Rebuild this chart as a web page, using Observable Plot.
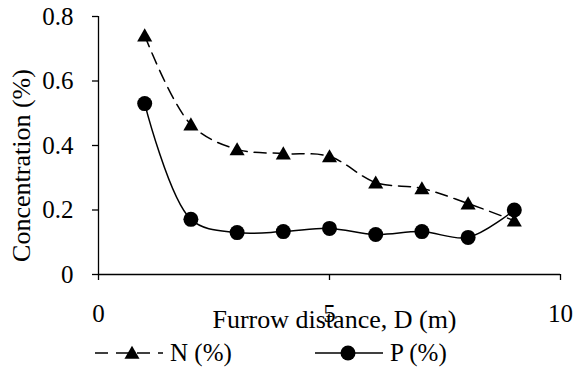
<!DOCTYPE html>
<html>
<head>
<meta charset="utf-8">
<script src="https://cdn.jsdelivr.net/npm/d3@7"></script>
<script src="https://cdn.jsdelivr.net/npm/@observablehq/plot@0.6"></script>
<style>
  html, body { margin: 0; padding: 0; background: #fff; }
  #wrap { width: 573px; font-family: "Liberation Serif", "Times New Roman", serif; }
  #legend { position: relative; width: 573px; height: 36px; font-size: 25px; color: #000; }
  #legend .item { position: absolute; top: 0; height: 36px; display: flex; align-items: center; }
  #legend svg { display: block; }
</style>
</head>
<body>
<div id="wrap">
  <div id="chart"></div>
  <div id="legend"></div>
</div>
<script>
const distance = [1, 2, 3, 4, 5, 6, 7, 8, 9];
const nValues = [0.741, 0.465, 0.388, 0.375, 0.366, 0.285, 0.267, 0.22, 0.167];
const pValues = [0.53, 0.171, 0.13, 0.133, 0.143, 0.124, 0.133, 0.115, 0.2];
const xTicks = [0, 5, 10];
const yTicks = [0, 0.2, 0.4, 0.6, 0.8];
const seriesNames = ["N (%)", "P (%)"];
const xLabel = "Furrow distance, D (m)";
const yLabel = "Concentration (%)";

const nData = distance.map((d, i) => ({x: d, y: nValues[i]}));
const pData = distance.map((d, i) => ({x: d, y: pValues[i]}));

const chart = Plot.plot({
  width: 573,
  height: 335,
  marginLeft: 98,
  marginRight: 13,
  marginTop: 16,
  marginBottom: 61,
  style: {fontFamily: "'Liberation Serif', 'Times New Roman', serif", fontSize: "25px", color: "#000", background: "#fff"},
  x: {domain: [0, 10]},
  y: {domain: [0, 0.8]},
  marks: [
    Plot.axisX({ticks: xTicks, tickSize: 6, tickPadding: 24, label: null, strokeWidth: 1.3, fontSize: 25}),
    Plot.axisY({ticks: yTicks, tickSize: 6, tickPadding: 19, label: null, strokeWidth: 1.3, fontSize: 25, tickFormat: d => String(d)}),
    Plot.ruleY([0], {stroke: "#000", strokeWidth: 1.3}),
    Plot.ruleX([0], {stroke: "#000", strokeWidth: 1.3}),
    Plot.line(nData, {x: "x", y: "y", curve: "catmull-rom", stroke: "#000", strokeWidth: 1.5, strokeDasharray: "12,7"}),
    Plot.line(pData, {x: "x", y: "y", curve: "catmull-rom", stroke: "#000", strokeWidth: 1.5}),
    Plot.dot(pData, {x: "x", y: "y", r: 7.5, fill: "#000", stroke: "none"}),
    Plot.dot(nData, {x: "x", y: "y", r: 5.6, symbol: "triangle", fill: "#000", stroke: "none", dy: 1.5}),
    Plot.text([xLabel], {frameAnchor: "bottom", textAnchor: "middle", lineAnchor: "top", dy: 35, dx: 5, fontSize: 26, fill: "#000"}),
    Plot.text([yLabel], {frameAnchor: "left", textAnchor: "middle", lineAnchor: "middle", rotate: -90, dx: -77, dy: 20, fontSize: 26, fill: "#000"})
  ]
});
document.getElementById("chart").appendChild(chart);

// Legend (HTML, below the SVG)
const legend = document.getElementById("legend");
function addItem(left, name, dashed, symbol) {
  const item = document.createElement("div");
  item.className = "item";
  item.style.left = left + "px";
  const ns = "http://www.w3.org/2000/svg";
  const svg = document.createElementNS(ns, "svg");
  svg.setAttribute("width", 70);
  svg.setAttribute("height", 20);
  const line = document.createElementNS(ns, "line");
  line.setAttribute("x1", 0); line.setAttribute("x2", 68);
  line.setAttribute("y1", 10); line.setAttribute("y2", 10);
  line.setAttribute("stroke", "#000"); line.setAttribute("stroke-width", 1.5);
  if (dashed) line.setAttribute("stroke-dasharray", "13,8");
  svg.appendChild(line);
  const path = document.createElementNS(ns, "path");
  const size = symbol === "triangle" ? Math.PI * 5.6 * 5.6 : Math.PI * 7.5 * 7.5;
  const sym = symbol === "triangle" ? d3.symbolTriangle : d3.symbolCircle;
  path.setAttribute("d", d3.symbol(sym, size)());
  path.setAttribute("transform", `translate(${symbol === "triangle" ? 37 : 33},${symbol === "triangle" ? 11.5 : 10})`);
  path.setAttribute("fill", "#000");
  svg.appendChild(path);
  item.appendChild(svg);
  const label = document.createElement("span");
  label.textContent = name;
  label.style.marginLeft = "5px";
  item.appendChild(label);
  legend.appendChild(item);
}
addItem(95, seriesNames[0], true, "triangle");
addItem(315, seriesNames[1], false, "circle");
</script>
</body>
</html>
